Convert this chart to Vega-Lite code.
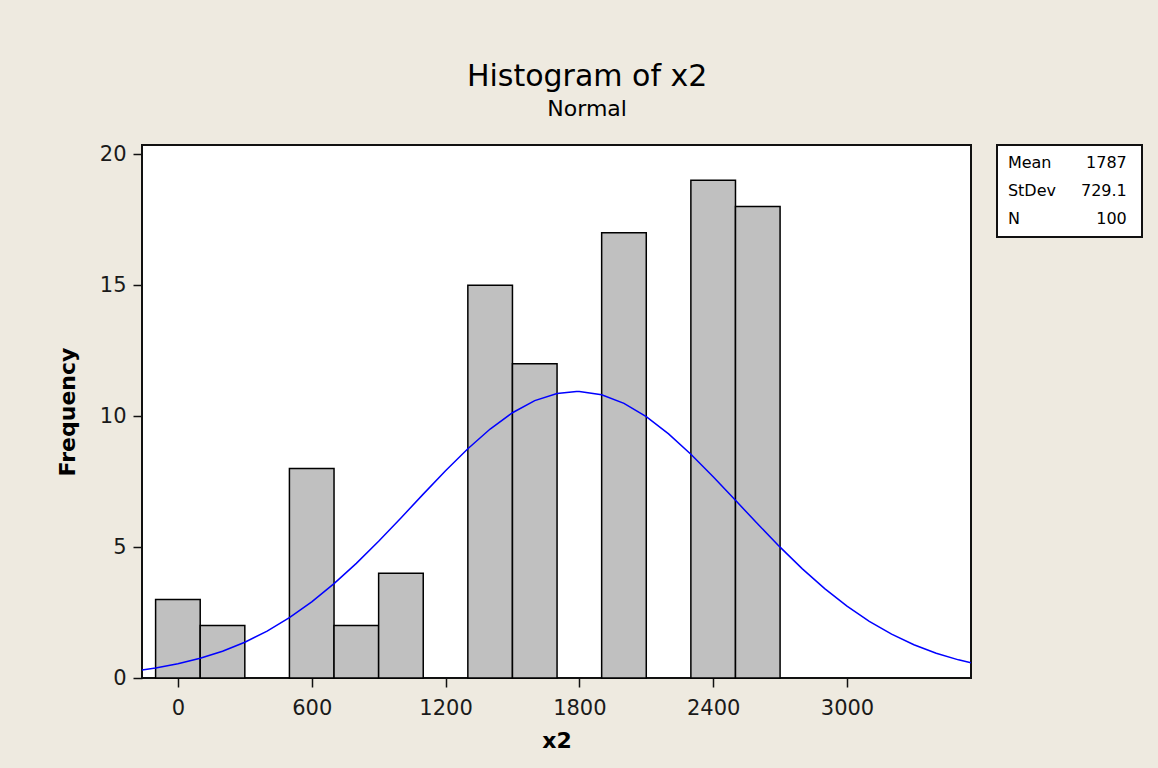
{
  "$schema": "https://vega.github.io/schema/vega-lite/v6.json",
  "background": "#EEEAE0",
  "autosize": {"type": "pad"},
  "padding": {"left": 55, "top": 62, "right": 30, "bottom": 30},
  "title": {
    "text": "Histogram of x2",
    "subtitle": "Normal",
    "anchor": "middle",
    "dx": -12,
    "font": "DejaVu Sans",
    "fontSize": 30,
    "fontWeight": "normal",
    "color": "#000000",
    "subtitleFont": "DejaVu Sans",
    "subtitleFontSize": 22,
    "subtitleColor": "#000000",
    "subtitlePadding": 7,
    "offset": 22
  },
  "datasets": {
    "bins": [
      {"bin_start": -100, "bin_end": 100, "count": 3},
      {"bin_start": 100, "bin_end": 300, "count": 2},
      {"bin_start": 500, "bin_end": 700, "count": 8},
      {"bin_start": 700, "bin_end": 900, "count": 2},
      {"bin_start": 900, "bin_end": 1100, "count": 4},
      {"bin_start": 1300, "bin_end": 1500, "count": 15},
      {"bin_start": 1500, "bin_end": 1700, "count": 12},
      {"bin_start": 1900, "bin_end": 2100, "count": 17},
      {"bin_start": 2300, "bin_end": 2500, "count": 19},
      {"bin_start": 2500, "bin_end": 2700, "count": 18}
    ],
    "curve": [
      {"x": -161, "freq": 0.308},
      {"x": -100, "freq": 0.384},
      {"x": 0, "freq": 0.543},
      {"x": 100, "freq": 0.753},
      {"x": 200, "freq": 1.024},
      {"x": 300, "freq": 1.367},
      {"x": 400, "freq": 1.792},
      {"x": 500, "freq": 2.304},
      {"x": 600, "freq": 2.908},
      {"x": 700, "freq": 3.602},
      {"x": 800, "freq": 4.377},
      {"x": 900, "freq": 5.221},
      {"x": 1000, "freq": 6.111},
      {"x": 1100, "freq": 7.020},
      {"x": 1200, "freq": 7.914},
      {"x": 1300, "freq": 8.755},
      {"x": 1400, "freq": 9.505},
      {"x": 1500, "freq": 10.127},
      {"x": 1600, "freq": 10.589},
      {"x": 1700, "freq": 10.865},
      {"x": 1787, "freq": 10.943},
      {"x": 1800, "freq": 10.941},
      {"x": 1900, "freq": 10.812},
      {"x": 2000, "freq": 10.486},
      {"x": 2100, "freq": 9.980},
      {"x": 2200, "freq": 9.321},
      {"x": 2300, "freq": 8.543},
      {"x": 2400, "freq": 7.685},
      {"x": 2500, "freq": 6.784},
      {"x": 2600, "freq": 5.877},
      {"x": 2700, "freq": 4.996},
      {"x": 2800, "freq": 4.168},
      {"x": 2900, "freq": 3.413},
      {"x": 3000, "freq": 2.742},
      {"x": 3100, "freq": 2.162},
      {"x": 3200, "freq": 1.673},
      {"x": 3300, "freq": 1.271},
      {"x": 3400, "freq": 0.947},
      {"x": 3500, "freq": 0.693},
      {"x": 3556, "freq": 0.577}
    ],
    "stats": [
      {"stat": "Mean", "value": "1787"},
      {"stat": "StDev", "value": "729.1"},
      {"stat": "N", "value": "100"}
    ]
  },
  "spacing": 26,
  "bounds": "flush",
  "hconcat": [
    {
      "width": 829,
      "height": 533,
      "layer": [
        {
          "data": {"name": "bins"},
          "mark": {"type": "rect", "fill": "#C0C0C0", "stroke": "#000000", "strokeWidth": 1.5},
          "encoding": {
            "x": {
              "field": "bin_start",
              "type": "quantitative",
              "scale": {"domain": [-161, 3556], "nice": false, "zero": false},
              "axis": {"values": [0, 600, 1200, 1800, 2400, 3000], "format": "d", "title": "x2", "labelPadding": 10, "titlePadding": 12}
            },
            "x2": {"field": "bin_end"},
            "y": {
              "field": "count",
              "type": "quantitative",
              "scale": {"domain": [0, 20.35], "nice": false},
              "axis": {"values": [0, 5, 10, 15, 20], "format": "d", "title": "Frequency", "labelPadding": 7, "titlePadding": 20}
            },
            "y2": {"datum": 0}
          }
        },
        {
          "data": {"name": "curve"},
          "mark": {"type": "line", "color": "#0000FF", "strokeWidth": 1.5, "clip": true},
          "encoding": {
            "x": {"field": "x", "type": "quantitative"},
            "y": {"field": "freq", "type": "quantitative"}
          }
        }
      ]
    },
    {
      "width": 145,
      "height": 92,
      "data": {"name": "stats"},
      "layer": [
        {
          "mark": {"type": "text", "align": "left", "font": "DejaVu Sans", "fontSize": 16, "color": "#000000"},
          "encoding": {
            "x": {"datum": 0.075, "type": "quantitative", "scale": {"domain": [0, 1]}, "axis": null},
            "y": {"field": "stat", "type": "ordinal", "sort": null, "scale": {"type": "point", "padding": 0.62}, "axis": null},
            "text": {"field": "stat"}
          }
        },
        {
          "mark": {"type": "text", "align": "right", "font": "DejaVu Sans", "fontSize": 16, "color": "#000000"},
          "encoding": {
            "x": {"datum": 0.895, "type": "quantitative"},
            "y": {"field": "stat", "type": "ordinal", "sort": null},
            "text": {"field": "value"}
          }
        }
      ]
    }
  ],
  "config": {
    "view": {"stroke": "#111111", "strokeWidth": 2, "fill": "#FFFFFF"},
    "axis": {
      "domain": false,
      "grid": false,
      "ticks": true,
      "tickColor": "#111111",
      "tickWidth": 1.5,
      "tickSize": 9,
      "labelFont": "DejaVu Sans",
      "labelFontSize": 21,
      "labelColor": "#1A1A1A",
      "titleFont": "DejaVu Sans",
      "titleFontSize": 22,
      "titleFontWeight": "bold",
      "titleColor": "#000000"
    }
  }
}
